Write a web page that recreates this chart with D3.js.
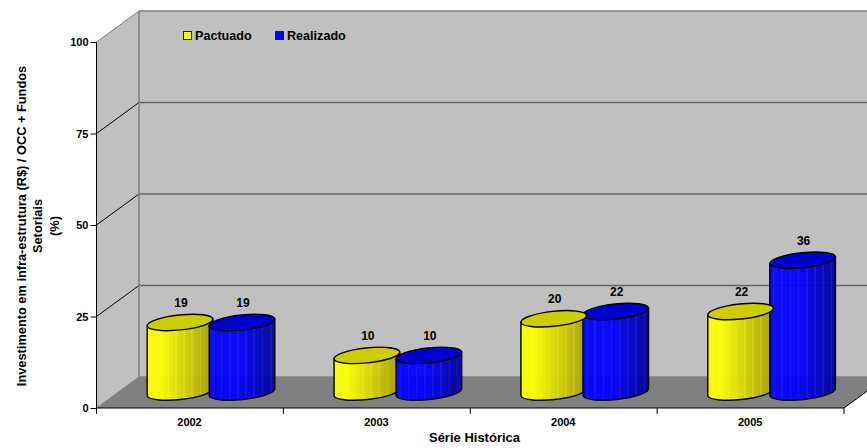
<!DOCTYPE html>
<html>
<head>
<meta charset="utf-8">
<script src="https://cdn.jsdelivr.net/npm/d3@7"></script>
<style>
  html, body { margin: 0; padding: 0; background: #fff; }
  svg { display: block; }
  text { font-family: "Liberation Sans", Arial, sans-serif; font-weight: bold; fill: #000; }
</style>
</head>
<body>
<script>
'use strict';

const years = ["2002", "2003", "2004", "2005"];
const seriesNames = ["Pactuado", "Realizado"];
const pactuado = [19, 10, 20, 22];
const realizado = [19, 10, 22, 36];
const yTicks = [0, 25, 50, 75, 100];
const yTitleLines = ["Investimento em infra-estrutura (R$) / OCC + Fundos", "Setoriais", "(%)"];
const xTitle = "Série Histórica";

const width = 867, height = 448;
// offset of the back wall against the front plane
const depthX = 42.5, depthY = -31;
const tilt = -6, rx = 33, ry = 7.5;

const svg = d3.select('body').append('svg')
  .attr('width', width)
  .attr('height', height);

const x = d3.scaleBand().domain(years).range([96.5, 844]);
const y = d3.scaleLinear().domain([0, 100]).range([408, 42]);
// position of the two cylinders inside a year
const xInner = d3.scaleBand().domain(seriesNames).range([52.5, 176.5]);

const defs = svg.append('defs');

// striped horizontal shading for the cylinder bodies
function makeShade(id, bright, dark, light, flat) {
  const shade = d3.scaleLinear().domain([flat, 1]).range([bright, dark]).clamp(true);
  const grad = defs.append('linearGradient').attr('id', id);
  const strips = 40;
  d3.range(strips).forEach(i => {
    const t = i / (strips - 1);
    const base = shade(t);
    // every few strips is a thin lighter line
    const c = i % 5 === 2 ? d3.interpolateRgb(base, light)(0.16) : base;
    grad.append('stop').attr('offset', i / strips).attr('stop-color', c);
    grad.append('stop').attr('offset', (i + 1) / strips).attr('stop-color', c);
  });
}
makeShade('shadeYellow', '#ffff00', '#a8a000', '#ffffa0', 0.2);
makeShade('shadeBlue', '#0000ff', '#000098', '#6060ff', 0.45);

const seriesStyle = {
  Pactuado: { body: 'url(#shadeYellow)', top: '#cccc00', key: '#ffff00' },
  Realizado: { body: 'url(#shadeBlue)', top: '#0000cc', key: '#0000ff' }
};

drawWalls();
drawAxes();
drawBars();
drawLegend();
drawTitles();

function drawWalls() {
  const x0 = x.range()[0], x1 = x.range()[1];
  const yb = y(0), yt = y(100);

  // floor
  svg.append('path')
    .attr('d', `M${x0},${yb}L${x0 + depthX},${yb + depthY}L${x1 + depthX},${yb + depthY}L${x1},${yb}Z`)
    .attr('fill', '#808080');
  // side wall
  svg.append('path')
    .attr('d', `M${x0},${yb}L${x0 + depthX},${yb + depthY}L${x0 + depthX},${yt + depthY}L${x0},${yt}Z`)
    .attr('fill', '#c0c0c0');
  // back wall
  svg.append('rect')
    .attr('x', x0 + depthX)
    .attr('y', yt + depthY)
    .attr('width', width - x0 - depthX + 2)
    .attr('height', yb - yt)
    .attr('fill', '#c0c0c0');

  // grid on both walls
  yTicks.forEach(t => {
    const gy = y(t);
    svg.append('line')
      .attr('x1', x0 + depthX).attr('x2', width + 2)
      .attr('y1', gy + depthY).attr('y2', gy + depthY)
      .attr('stroke', t === 100 || t === 0 ? '#808080' : '#666')
      .attr('stroke-width', 1.5);
    svg.append('line')
      .attr('x1', x0).attr('x2', x0 + depthX)
      .attr('y1', gy).attr('y2', gy + depthY)
      .attr('stroke', t === 100 || t === 0 ? '#808080' : '#000')
      .attr('stroke-width', 1);
  });

  // back corner
  svg.append('line')
    .attr('x1', x0 + depthX).attr('x2', x0 + depthX)
    .attr('y1', yt + depthY).attr('y2', yb + depthY)
    .attr('stroke', '#808080')
    .attr('stroke-width', 1.5);

  // front edge of the floor at the right
  svg.append('line')
    .attr('x1', x1).attr('x2', x1 + depthX)
    .attr('y1', yb).attr('y2', yb + depthY)
    .attr('stroke', '#000');
}

function drawAxes() {
  const yAxis = d3.axisLeft(y).tickValues(yTicks).tickSize(6).tickPadding(2);
  const gy = svg.append('g')
    .attr('transform', `translate(${x.range()[0]},0)`)
    .call(yAxis);
  gy.select('.domain').attr('stroke', '#000').attr('d', `M0,${y(100)}V${y(0)}`);
  gy.selectAll('text').style('font-size', '11px').style('font-family', '"Liberation Sans"');

  // ticks sit on the band edges, so the labels are moved to band centres
  const xAxis = d3.axisBottom(x).tickSize(0).tickPadding(10);
  const gx = svg.append('g')
    .attr('transform', `translate(0,${y(0)})`)
    .call(xAxis);
  gx.select('.domain').attr('stroke', '#000').attr('d', `M${x.range()[0]},0H${x.range()[1]}`);
  gx.selectAll('text').style('font-size', '11px').style('font-family', '"Liberation Sans"');
  gx.selectAll('.tick').attr('transform', d => `translate(${x(d) + 93},0)`);

  const edges = years.map(d => x(d)).concat([x.range()[1]]);
  gx.selectAll('.edge').data(edges).enter().append('line')
    .attr('class', 'edge')
    .attr('x1', d => d).attr('x2', d => d)
    .attr('y1', 0).attr('y2', 6)
    .attr('stroke', '#000');
}

function cylinderPath(cx, yTop, yBase) {
  const t = tilt * Math.PI / 180;
  const dx = rx * Math.cos(t), dy = rx * Math.sin(t);
  return `M${cx - dx},${yTop - dy}L${cx - dx},${yBase - dy}` +
    `A${rx},${ry} ${tilt} 0 0 ${cx + dx},${yBase + dy}` +
    `L${cx + dx},${yTop + dy}Z`;
}

function drawBars() {
  const groundOffset = 16; // cylinders stand inside the floor, not on the front edge
  const rows = seriesNames.map((name, s) => ({
    name: name,
    values: s === 0 ? pactuado : realizado
  }));

  years.forEach((year, i) => {
    const g = svg.append('g').attr('class', 'year');
    const place = row => ({
      cx: x(year) + xInner(row.name) + xInner.bandwidth() / 2,
      yBase: y(0) - groundOffset,
      yTop: y(row.values[i]) - groundOffset,
      st: seriesStyle[row.name]
    });

    rows.forEach(row => {
      const p = place(row);
      g.append('path')
        .attr('d', cylinderPath(p.cx, p.yTop, p.yBase))
        .attr('fill', p.st.body)
        .attr('fill-opacity', 0.95)
        .attr('stroke', '#000')
        .attr('stroke-width', 1.4);
    });

    // the yellow lid lies over the blue cylinder, so lids go last and reversed
    rows.slice().reverse().forEach(row => {
      const p = place(row);
      g.append('ellipse')
        .attr('cx', p.cx).attr('cy', p.yTop)
        .attr('rx', rx).attr('ry', ry)
        .attr('transform', `rotate(${tilt} ${p.cx} ${p.yTop})`)
        .attr('fill', p.st.top)
        .attr('stroke', '#000')
        .attr('stroke-width', 1.4);
    });

    rows.forEach(row => {
      const p = place(row);
      g.append('text')
        .attr('x', p.cx + 1)
        .attr('y', p.yTop - 15.5)
        .attr('text-anchor', 'middle')
        .style('font-size', '12px')
        .text(row.values[i]);
    });
  });
}

function drawLegend() {
  const legendX = d3.scaleOrdinal().domain(seriesNames).range([183, 275]);
  const g = svg.selectAll('.legend')
    .data(seriesNames)
    .enter()
    .append('g')
    .attr('class', 'legend')
    .attr('transform', d => `translate(${legendX(d)},31)`);

  g.append('rect')
    .attr('x', 0.5).attr('y', 0.5)
    .attr('width', 8).attr('height', 8)
    .attr('fill', d => seriesStyle[d].key)
    .attr('stroke', '#222');
  g.append('text')
    .attr('x', 12)
    .attr('y', 9)
    .style('font-size', '12.6px')
    .text(d => d);
}

function drawTitles() {
  svg.append('text')
    .attr('x', 474.5)
    .attr('y', 442)
    .attr('text-anchor', 'middle')
    .style('font-size', '13px')
    .text(xTitle);

  svg.selectAll('.ytitle')
    .data(yTitleLines)
    .enter()
    .append('text')
    .attr('class', 'ytitle')
    .attr('text-anchor', 'middle')
    .attr('transform', (d, i) => `translate(${25.5 + i * 16.7},226)rotate(-90)`)
    .style('font-size', '12.8px')
    .text(d => d);
}
</script>
</body>
</html>
